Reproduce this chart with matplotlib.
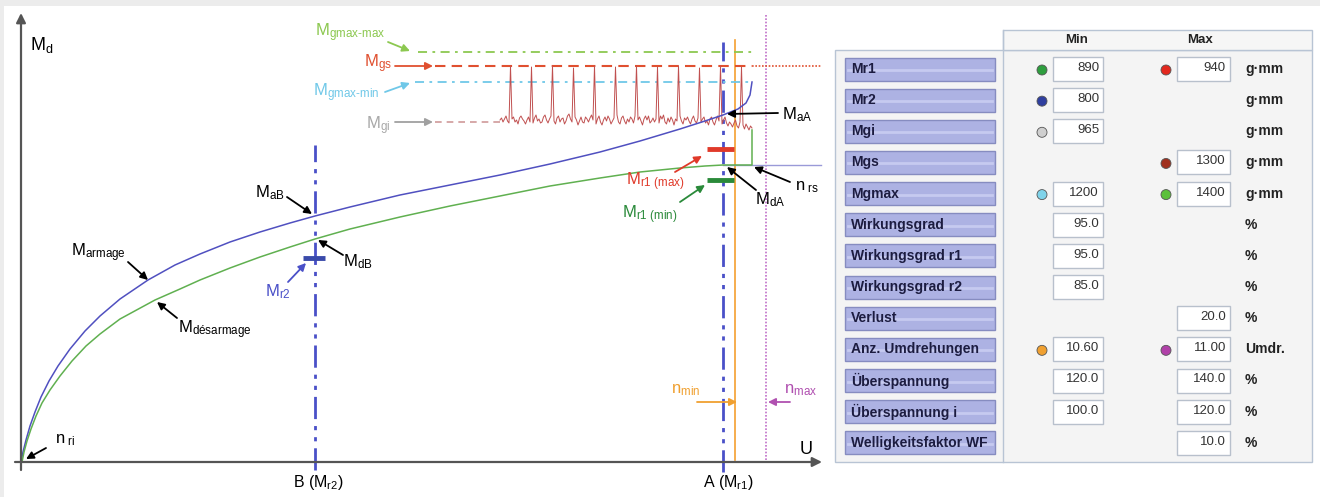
import matplotlib
matplotlib.use('Agg')
import matplotlib.pyplot as plt
from matplotlib.patches import Rectangle, Circle
import numpy as np

plt.rcParams['font.family'] = 'Liberation Sans'
plt.rcParams['mathtext.fontset'] = 'custom'
plt.rcParams['mathtext.rm'] = 'Liberation Sans'
plt.rcParams['mathtext.it'] = 'Liberation Sans:italic'
plt.rcParams['mathtext.bf'] = 'Liberation Sans:bold'

# ---- diagram data (units: U to the right, Md upwards, origin at axis crossing)
arm_x = [0, 2, 5, 9, 14, 20, 28, 37, 49, 64, 79, 99, 127, 154, 179, 209, 239, 269, 294, 329,
         379, 429, 479, 529, 579, 619, 659, 684, 702, 717, 725, 729, 731]
arm_y = [0, 10, 22, 36, 50, 65, 81, 96, 113, 131, 146, 163, 182, 197, 208, 220, 230, 239, 246, 255,
         267, 277, 287, 298, 310, 321, 333, 341, 347, 353, 359, 367, 380]
des_x = [1, 3, 6, 10, 15, 21, 29, 39, 51, 65, 79, 99, 134, 159, 179, 209, 239, 269, 294, 329,
         379, 429, 479, 529, 579, 619, 659, 684, 702, 719, 731, 731]
des_y = [0, 10, 21, 33, 46, 59, 72, 86, 101, 116, 128, 143, 162, 173, 182, 194, 205, 215, 223, 233,
         245, 256, 266, 276, 284, 290, 294, 296, 297, 297, 297, 332]

# ripple of the torque signal (one row per winding period)
sig_y = [342, 344, 340, 343, 346, 341, 339, 396, 343, 345, 340, 342, 338, 344,
         346, 343, 341, 338, 342, 345, 340, 395, 339, 344, 347, 341, 343, 339,
         340, 345, 347, 342, 339, 343, 346, 396, 341, 338, 344, 346, 340, 343,
         344, 338, 341, 346, 348, 343, 340, 394, 345, 342, 337, 341, 345, 340,
         339, 345, 343, 340, 344, 347, 342, 396, 338, 343, 346, 340, 337, 342,
         345, 341, 346, 343, 338, 341, 344, 395, 347, 340, 338, 344, 346, 341,
         338, 343, 340, 345, 343, 339, 346, 396, 342, 345, 341, 337, 343, 346,
         342, 346, 339, 341, 344, 340, 343, 395, 339, 346, 343, 347, 340, 338,
         344, 340, 345, 342, 337, 343, 341, 396, 346, 341, 338, 344, 342, 345,
         341, 338, 343, 346, 341, 339, 344, 394, 340, 343, 345, 339, 341, 337,
         343, 345, 340, 337, 342, 346, 341, 396, 338, 342, 345, 339, 336, 340,
         338, 335, 339, 342, 336, 334, 340, 395, 337, 333, 338, 335, 332, 336,
         334]
sig_start = 479
sig_step = 1.5

# levels and positions
M_gmax_max = 410
M_gs = 396
M_gmax_min = 380
M_gi = 340
M_r1_max = 313
M_r1_min = 282
M_r2 = 204
n_rs = 297
U_B = 294
U_A = 702
n_min = 714
n_max = 745

# ---- table data
row_labels = ['Mr1', 'Mr2', 'Mgi', 'Mgs', 'Mgmax', 'Wirkungsgrad', 'Wirkungsgrad r1',
              'Wirkungsgrad r2', 'Verlust', 'Anz. Umdrehungen', 'Überspannung',
              'Überspannung i', 'Welligkeitsfaktor WF']
min_vals = ['890', '800', '965', '', '1200', '95.0', '95.0', '85.0', '', '10.60', '120.0', '100.0', '']
max_vals = ['940', '', '', '1300', '1400', '', '', '', '20.0', '11.00', '140.0', '120.0', '10.0']
units = ['g·mm', 'g·mm', 'g·mm', 'g·mm', 'g·mm', '%', '%', '%', '%', 'Umdr.', '%', '%', '%']
min_dots = ['#2e9e3e', '#2f3f9f', '#cfcfcf', None, '#7fd3ea', None, None, None, None, '#f0a030', None, None, None]
max_dots = ['#e3281e', None, None, '#a0301e', '#5cc03c', None, None, None, None, '#b040a8', None, None, None]

fig = plt.figure(figsize=(13.2, 4.97), dpi=100)
fig.patch.set_facecolor('white')

# table / background axes in pixel units
tx = fig.add_axes([0, 0, 1, 1])
tx.set_xlim(0, 1320)
tx.set_ylim(497, 0)
tx.axis('off')
tx.add_patch(Rectangle((0, 0), 1320, 6, fc='#ececec', ec='none'))
tx.add_patch(Rectangle((0, 0), 4, 497, fc='#ececec', ec='none'))

# diagram axes
ax = fig.add_axes([0, 0, 830 / 1320, 1])
ax.set_xlim(-21, 809)
ax.set_ylim(-35, 462)
ax.axis('off')

blue = '#4a50c8'
akw = dict(arrowstyle='-|>', lw=1.3, mutation_scale=11, shrinkA=0, shrinkB=0)


def arrow(x0, y0, x1, y1, c='black'):
    ax.annotate('', xy=(x1, y1), xytext=(x0, y0), arrowprops=dict(color=c, **akw))


# axes of the diagram
ax.annotate('', xy=(801, 0), xytext=(-6, 0),
            arrowprops=dict(arrowstyle='-|>', color='#555555', lw=1.6, mutation_scale=14, shrinkA=0, shrinkB=0))
ax.annotate('', xy=(0, 449), xytext=(0, -8),
            arrowprops=dict(arrowstyle='-|>', color='#555555', lw=1.6, mutation_scale=14, shrinkA=0, shrinkB=0))
ax.text(21, 417, r'M$_{\rm d}$', fontsize=13, ha='center', va='center')
ax.text(785, 12, 'U', fontsize=13, ha='center', va='center')
ax.text(297, -20, r'B (M$_{\rm r2}$)', fontsize=11.5, ha='center', va='center')
ax.text(707, -20, r'A (M$_{\rm r1}$)', fontsize=11.5, ha='center', va='center')

# vertical reference lines
dd = (0, (8, 2.5, 1.5, 2.5, 1.5, 2.5))
ax.plot([U_B, U_B], [-8, 317], color=blue, lw=2, ls=dd)
ax.plot([U_A, U_A], [-10, 420], color=blue, lw=2, ls=dd)
ax.plot([n_min, n_min], [2, 422], color='#f5a030', lw=1.2)
ax.plot([n_max, n_max], [2, 447], color='#c070c8', lw=1.2, ls=(0, (1, 1)))

# horizontal levels
ax.plot([397, 732], [M_gmax_max] * 2, color='#8cc850', lw=1.3, ls=(0, (5, 3, 1.5, 3)))
ax.plot([414, 731], [M_gs] * 2, color='#e05030', lw=1.5, ls=(0, (5, 3)))
ax.plot([731, 800], [M_gs] * 2, color='#e05030', lw=1.2, ls=(0, (1, 1)))
ax.plot([394, 731], [M_gmax_min] * 2, color='#70c8e8', lw=1.3, ls=(0, (5, 3, 1.5, 3)))
ax.plot([414, sig_start], [M_gi] * 2, color='#d09a9a', lw=1.2, ls=(0, (4, 3)))
ax.plot([U_A, 800], [n_rs] * 2, color='#9a9ad8', lw=1)

# ripple signal
sig_x = sig_start + sig_step * np.arange(len(sig_y))
ax.plot(sig_x, sig_y, color='#c05050', lw=0.7)

# curves
ax.plot(arm_x, arm_y, color='#5050c0', lw=1.1)
ax.plot(des_x, des_y, color='#60b050', lw=1.1)

# torque bars
ax.plot([282, 304], [M_r2] * 2, color='#3a4aaa', lw=3.5, solid_capstyle='butt')
ax.plot([686, 713], [M_r1_max] * 2, color='#e03a2a', lw=3.5, solid_capstyle='butt')
ax.plot([686, 713], [M_r1_min] * 2, color='#2a8a3a', lw=3.5, solid_capstyle='butt')

# labels and arrows
fs = 12
ax.text(329, 429, 'M$_{\\rm gmax\u2010max}$', color='#8cc850', fontsize=fs, ha='center', va='center')
arrow(367, 420, 389, 411, '#8cc850')
ax.text(357, 398, r'M$_{\rm gs}$', color='#e05030', fontsize=fs, ha='center', va='center')
arrow(374, 396, 412, 396, '#e05030')
ax.text(325, 369, 'M$_{\\rm gmax\u2010min}$', color='#70c8e8', fontsize=fs, ha='center', va='center')
arrow(364, 370, 389, 379, '#70c8e8')
ax.text(357, 336, r'M$_{\rm gi}$', color='#a8a8a8', fontsize=fs, ha='center', va='center')
arrow(374, 340, 412, 340, '#a0a0a0')

ax.text(776, 347, r'M$_{\rm aA}$', fontsize=fs, ha='center', va='center')
arrow(757, 349, 706, 348)
ax.text(749, 262, r'M$_{\rm dA}$', fontsize=fs, ha='center', va='center')
arrow(735, 272, 706, 295)
ax.text(786, 275, r'n$_{\rm \ rs}$', fontsize=fs, ha='center', va='center')
arrow(769, 280, 733, 295)
ax.text(634, 280, r'M$_{\rm r1\ (max)}$', color='#e03a2a', fontsize=fs, ha='center', va='center')
arrow(654, 290, 681, 306, '#e03a2a')
ax.text(629, 247, r'M$_{\rm r1\ (min)}$', color='#2a8a3a', fontsize=fs, ha='center', va='center')
arrow(659, 260, 684, 277, '#2a8a3a')
ax.text(665, 72, r'n$_{\rm min}$', color='#f0a030', fontsize=fs, ha='center', va='center')
arrow(676, 60, 716, 60, '#f0a030')
ax.text(780, 72, r'n$_{\rm max}$', color='#b050b0', fontsize=fs, ha='center', va='center')
arrow(769, 60, 747, 60, '#b050b0')

ax.text(249, 269, r'M$_{\rm aB}$', fontsize=fs, ha='center', va='center')
arrow(266, 265, 291, 248)
ax.text(337, 200, r'M$_{\rm dB}$', fontsize=fs, ha='center', va='center')
arrow(322, 207, 297, 222)
ax.text(257, 170, r'M$_{\rm r2}$', color=blue, fontsize=fs, ha='center', va='center')
arrow(267, 180, 285, 199, blue)
ax.text(77, 209, r'M$_{\rm armage}$', fontsize=fs, ha='center', va='center')
arrow(107, 200, 127, 182)
ax.text(194, 132, r'M$_{\rm désarmage}$', fontsize=fs, ha='center', va='center')
arrow(156, 144, 136, 160)
ax.text(44, 22, r'n$_{\rm \ ri}$', fontsize=fs, ha='center', va='center')
arrow(25, 14, 5, 3)

# ---- parameter table
edge = '#b8c4d4'
tx.add_patch(Rectangle((835, 50), 477, 412, fc='#f4f4f4', ec=edge, lw=1))
tx.add_patch(Rectangle((1003, 30), 309, 20, fc='#f6f6f6', ec=edge, lw=1))
tx.plot([1003, 1003], [30, 462], color=edge, lw=1)
tx.text(1077, 40, 'Min', fontsize=9.5, fontweight='bold', ha='center', va='center', color='#222222')
tx.text(1200, 40, 'Max', fontsize=9.5, fontweight='bold', ha='center', va='center', color='#222222')

for i, lab in enumerate(row_labels):
    cy = 69 + 31.15 * i
    tx.add_patch(Rectangle((845, cy - 11.5), 150, 23, fc='#adb2e3', ec='#868cc0', lw=1))
    tx.plot([848, 992], [cy + 1, cy + 1], color='#c6caf0', lw=2)
    tx.text(851, cy, lab, fontsize=10, fontweight='bold', color='#1c1c40', ha='left', va='center')
    if min_vals[i]:
        tx.add_patch(Rectangle((1053, cy - 12), 50, 24, fc='white', ec='#b8c0cc', lw=1))
        tx.text(1099, cy - 1, min_vals[i], fontsize=9.5, color='#333333', ha='right', va='center')
    if max_vals[i]:
        tx.add_patch(Rectangle((1177, cy - 12), 53, 24, fc='white', ec='#b8c0cc', lw=1))
        tx.text(1226, cy - 1, max_vals[i], fontsize=9.5, color='#333333', ha='right', va='center')
    if min_dots[i]:
        tx.add_patch(Circle((1042, cy + 1), 5, fc=min_dots[i], ec='#555555', lw=0.6))
    if max_dots[i]:
        tx.add_patch(Circle((1166, cy + 1), 5, fc=max_dots[i], ec='#555555', lw=0.6))
    tx.text(1245, cy, units[i], fontsize=10, fontweight='bold', color='#222222', ha='left', va='center')

fig.savefig('out.png', dpi=100)
